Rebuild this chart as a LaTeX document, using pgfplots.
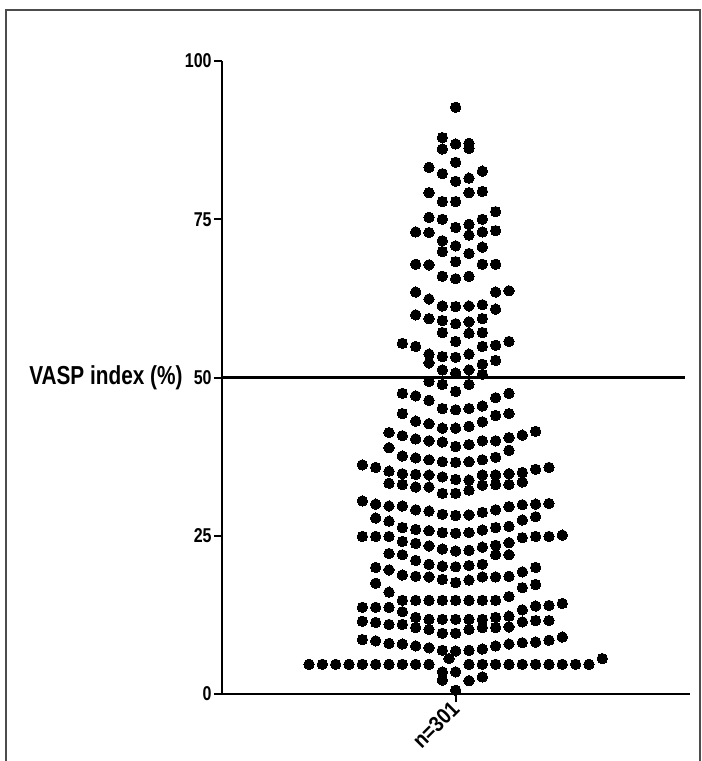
\documentclass[border=0pt]{standalone}
\usepackage{fontspec}
\setmainfont{Liberation Sans}[FakeStretch=0.88]
\newfontfamily\nar{Liberation Sans}[FakeStretch=0.8]
\usepackage{pgfplots}
\pgfplotsset{compat=1.18}
\pgfplotstableread{
x y
0 92.7
-1 87.9
0 86.9
1 87.0
1 86.2
-1 86.1
0 84.0
-2 83.2
-1 82.2
2 82.6
0 81.0
1 81.5
-2 79.2
1 79.2
2 79.4
-1 77.8
0 77.8
3 76.2
-2 75.3
-1 75.0
2 75.0
0 73.7
1 74.2
1 72.5
-3 73.0
-2 72.9
2 73.0
3 73.2
-1 71.6
-1 69.9
0 70.8
2 70.6
1 69.6
-3 67.9
-2 67.8
0 68.3
2 67.9
3 67.9
-1 66.0
0 65.6
1 66.0
-3 63.5
-2 62.4
3 63.5
4 63.7
-1 61.3
0 61.2
1 61.3
2 61.5
3 60.8
-3 59.9
-2 59.3
-1 59.0
0 58.5
1 58.8
2 59.3
-1 57.1
1 57.0
2 57.1
0 55.7
-4 55.4
-3 54.9
2 54.9
3 55.1
4 55.7
-2 53.7
-2 52.3
-1 53.3
0 53.2
1 53.7
3 52.7
2 52.1
-1 51.2
0 50.7
1 51.2
2 50.5
-2 49.4
-1 48.9
1 48.9
0 47.8
-4 47.5
-3 47.1
-2 46.4
3 46.8
4 47.5
-1 45.1
0 44.9
1 45.1
2 45.5
3 44.0
4 44.3
-4 44.3
-3 43.1
-2 42.7
-1 42.0
0 42.0
1 42.3
2 43.0
-5 41.3
-4 40.8
-3 40.3
-2 40.0
-1 39.8
0 39.1
1 39.4
2 40.0
3 40.0
4 40.5
4 38.5
5 40.9
6 41.5
-5 38.9
-4 37.6
-3 37.3
-2 37.0
-1 36.7
0 36.6
1 36.7
2 37.0
3 37.4
-7 36.2
-6 35.8
-5 35.2
-5 33.3
-4 34.8
-4 33.1
-3 34.7
-3 32.7
-2 34.6
-2 32.7
-1 34.3
-1 31.7
0 33.9
0 31.7
1 33.8
1 32.2
2 34.6
2 33.0
3 34.6
3 33.1
4 34.8
4 33.1
5 35.0
5 33.5
6 35.5
7 35.8
-7 30.5
-6 30.0
-5 29.7
-4 29.7
-3 29.1
-2 28.9
-1 28.4
0 28.2
1 28.3
2 28.7
3 29.1
4 29.6
5 29.9
6 30.0
7 30.1
-6 27.8
-5 27.3
-4 26.3
-3 26.0
-2 25.8
-1 25.5
0 25.4
1 25.5
2 25.9
3 26.3
4 26.5
5 27.5
6 28.0
-7 24.9
-6 24.9
-5 24.9
5 24.7
6 24.9
7 24.9
8 25.1
-4 24.1
-3 23.8
-2 23.4
-1 22.9
0 22.6
1 22.7
2 23.2
3 23.5
3 22.0
4 23.9
4 22.0
-5 22.2
-4 22.0
-3 21.1
-2 20.5
-1 20.2
0 20.1
1 20.3
2 20.5
-6 20.0
-5 19.6
5 19.3
6 20.0
-4 18.8
-3 18.6
-2 18.5
-1 18.1
0 17.6
1 18.0
2 18.5
3 18.5
4 18.6
-6 17.5
-5 16.1
5 16.8
6 17.3
-4 14.8
-3 14.8
-2 14.8
-1 14.8
0 14.8
1 14.8
2 14.8
3 14.8
4 15.4
-7 13.7
-6 13.7
-5 13.7
-4 13.0
5 13.3
6 13.9
7 14.0
8 14.3
-7 11.5
-6 11.3
-5 11.0
-4 11.0
-3 12.1
-2 11.8
-1 11.8
0 11.8
1 11.8
2 11.8
3 12.1
4 12.3
5 11.4
6 11.6
7 11.6
-3 10.5
-2 10.2
-1 9.6
0 9.6
1 10.2
2 10.5
3 10.5
4 10.6
-7 8.6
-6 8.4
-5 8.0
-4 7.9
-3 7.6
-2 7.3
3 7.6
4 7.9
5 8.1
6 8.2
7 8.5
8 9.0
-1 6.9
-0.5 5.6
0 6.8
1 6.9
2 7.1
-11 4.7
-10 4.7
-9 4.7
-8 4.7
-7 4.7
-6 4.7
-5 4.7
-4 4.7
-3 4.7
-2 4.7
1 4.7
2 4.7
3 4.7
4 4.7
5 4.7
6 4.7
7 4.7
8 4.7
9 4.7
10 4.7
11 5.6
-1 3.5
-1 2.2
0 3.5
0 0.6
1 2.1
2 2.7
}\vasp
\begin{document}
\begin{tikzpicture}[x=1pt,y=1pt]
\useasboundingbox (0,0) rectangle (351,-380.5);
\draw[line width=1pt, black!70] (3,-395) -- (3,-5) -- (350,-5) -- (350,-395);
\begin{axis}[
  at={(111pt,-347pt)}, anchor=south west,
  scale only axis, width=234pt, height=316.5pt,
  xmin=-17.53, xmax=17.58, ymin=0, ymax=100,
  axis x line*=bottom, axis y line*=left,
  axis line style={line width=1pt, -},
  ytick={0,25,50,75,100},
  xtick={0}, xticklabels={n=301},
  tick align=outside, major tick length=4pt,
  tick style={line width=1pt, black},
  /pgf/number format/assume math mode=true,
  x tick label style={rotate=45, anchor=east, font=\fontsize{11}{13}\selectfont\bfseries, inner sep=0.5pt, xshift=-0.5pt, yshift=-1pt},
  y tick label style={font=\nar\fontsize{10}{12}\selectfont\bfseries, inner sep=1pt},
  clip=false,
]
\addplot[line width=1.5pt, black] coordinates {(-17.53,50) (17.2,50)};
\addplot[only marks, mark=*, mark size=2.6pt, mark options={fill=black, draw=black, line width=0pt}] table[x=x, y=y] {\vasp};
\node[anchor=east, inner sep=0pt, font=\nar\fontsize{13}{15}\selectfont\bfseries] at ([xshift=-19.5pt]rel axis cs:0,0.5) {VASP index (\%)};
\end{axis}
\end{tikzpicture}
\end{document}
